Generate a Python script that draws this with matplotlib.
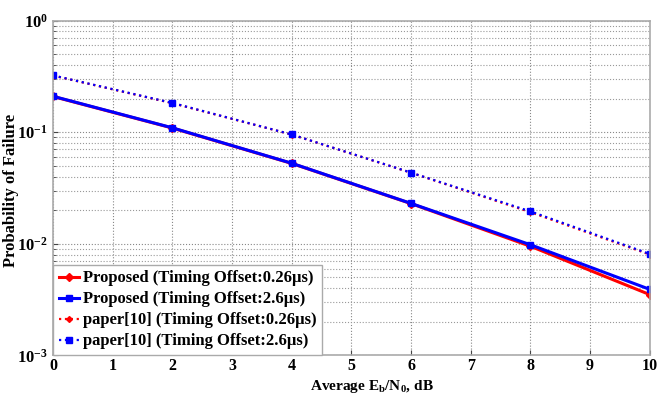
import numpy as np
import matplotlib.pyplot as plt
from matplotlib.ticker import LogLocator, NullFormatter

snr_db = [0, 2, 4, 6, 8, 10]
proposed_026 = [0.209, 0.109, 0.0525, 0.0229, 0.0095, 0.0035]
proposed_26 = [0.210, 0.1095, 0.0527, 0.0230, 0.0098, 0.0039]
paper_026 = [0.322, 0.182, 0.0952, 0.0433, 0.0192, 0.0080]
paper_26 = [0.323, 0.183, 0.0954, 0.0434, 0.0195, 0.0081]

labels = ['Proposed (Timing Offset:0.26\u03bcs)',
          'Proposed (Timing Offset:2.6\u03bcs)',
          'paper[10] (Timing Offset:0.26\u03bcs)',
          'paper[10] (Timing Offset:2.6\u03bcs)']

plt.rcParams['font.family'] = ['Liberation Serif', 'DejaVu Serif']
plt.rcParams['font.weight'] = 'bold'
plt.rcParams['mathtext.fontset'] = 'custom'
plt.rcParams['mathtext.rm'] = 'Liberation Serif'
plt.rcParams['mathtext.bf'] = 'Liberation Serif:bold'

fig = plt.figure(figsize=(6.59, 3.97), dpi=100)
ax = fig.add_axes([0.0804, 0.105, 0.9056, 0.843])

ax.semilogy(snr_db, proposed_026, color='red', lw=2.2, marker='D', ms=4, label=labels[0])
ax.semilogy(snr_db, proposed_26, color='blue', lw=2.2, marker='s', ms=5, label=labels[1])
ax.semilogy(snr_db, paper_026, color='red', lw=1.6, ls=':', marker='D', ms=3, label=labels[2])
ax.semilogy(snr_db, paper_26, color='blue', lw=1.6, ls=':', marker='s', ms=4, label=labels[3])

ax.set_xlim(0, 10)
ax.set_ylim(1e-3, 1)
ax.set_xticks(range(11))
ax.yaxis.set_major_locator(LogLocator(base=10))
ax.yaxis.set_minor_locator(LogLocator(base=10, subs=np.arange(2, 10)))
ax.yaxis.set_minor_formatter(NullFormatter())
ax.tick_params(which='both', direction='in', labelsize=12, colors='#444444', labelcolor='black')
ax.tick_params(axis='x', pad=2, labelsize=11.5)
ax.tick_params(which='minor', length=2)

ax.grid(True, which='major', ls=':', color='#888888', lw=0.8)
ax.grid(True, which='minor', axis='y', ls=':', color='#999999', lw=0.8)
for sp in ax.spines.values():
    sp.set_color('#aaaaaa')
    sp.set_linewidth(1.2)

# axis titles placed by hand so they stay inside the small canvas
fig.text(0.565, 0.005, 'Average E$_\\mathbf{b}$/N$_\\mathbf{0}$, dB', fontsize=11,
         fontweight='bold', ha='center', va='bottom')
fig.text(0.017, 0.52, 'Probability of Failure', fontsize=12, fontweight='bold',
         ha='center', va='center', rotation=90)

leg = ax.legend(loc='lower left', borderaxespad=0, handlelength=1.2,
                handletextpad=0.25, labelspacing=0.3, borderpad=0.35, fancybox=False,
                framealpha=1, prop={'weight': 'bold', 'size': 12})
leg.get_frame().set_edgecolor('#aaaaaa')

fig.savefig('out.png', dpi=100)
